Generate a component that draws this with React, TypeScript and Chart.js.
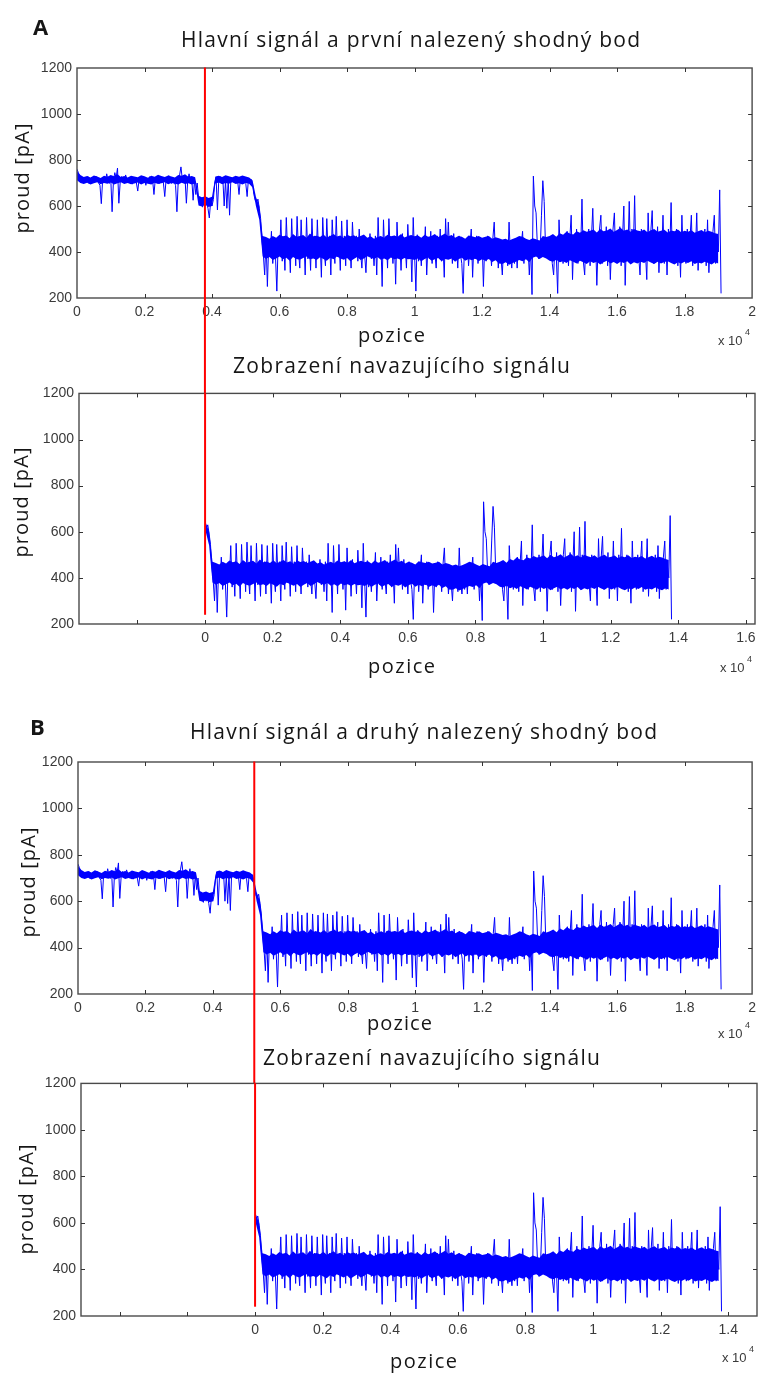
import React, { useEffect, useRef } from 'react';
import { Chart, registerables } from 'chart.js';

Chart.register(...registerables);

// ---------------- data ----------------
// individual samples (spikes visible around the dense band), one every SAMPLE_STEP positions, values in pA
const SAMPLE_STEP = 40;
const MAIN_SIGNAL: number[] = [
  // 0 - 960
  760, 745, 725, 705, 718, 700, 722, 710, 728, 698, 715, 705, 720, 708, 730, 712, 700, 690, 610, 715, 725, 705, 740, 712, 698,
  // 1000 - 1960
  720, 575, 710, 745, 722, 765, 612, 705, 728, 715, 700, 735, 718, 702, 725, 710, 695, 720, 712, 700, 665, 718, 708, 725, 702,
  // 2000 - 2960
  715, 690, 722, 705, 728, 700, 712, 650, 718, 705, 730, 698, 715, 722, 700, 641, 718, 708, 732, 712, 698, 720, 705, 690, 575,
  // 3000 - 3960
  712, 735, 770, 715, 700, 722, 612, 710, 740, 705, 718, 625, 712, 650, 700, 640, 605, 625, 595, 630, 600, 618, 590, 548, 622,
  // 4000 - 4960
  600, 628, 700, 725, 583, 712, 728, 705, 720, 600, 712, 590, 718, 560, 725, 705, 715, 700, 722, 708, 650, 718, 702, 725, 710,
  // 5000 - 5960
  698, 641, 720, 705, 715, 695, 650, 625, 615, 630, 590, 545, 450, 390, 300, 460, 250, 440, 380, 490, 350, 455, 380, 230, 445,
  // 6000 - 6960
  390, 540, 360, 450, 320, 550, 400, 460, 310, 545, 380, 470, 340, 555, 410, 330, 540, 390, 465, 300, 550, 370, 455, 320, 545,
  // 7000 - 7960
  400, 470, 330, 540, 380, 460, 290, 550, 405, 340, 545, 390, 470, 300, 540, 420, 350, 555, 380, 460, 320, 535, 400, 470, 340,
  // 8000 - 8960
  540, 385, 455, 330, 530, 410, 380, 470, 360, 500, 400, 330, 460, 390, 310, 450, 400, 480, 370, 430, 340, 470, 300, 550, 390,
  // 9000 - 9960
  460, 250, 540, 380, 470, 330, 545, 400, 440, 350, 470, 260, 530, 390, 450, 320, 480, 380, 440, 330, 520, 400, 455, 270, 550,
  // 10000 - 10960
  390, 230, 475, 360, 430, 340, 460, 390, 510, 300, 440, 370, 490, 350, 450, 400, 330, 470, 380, 500, 360, 440, 290, 545, 380,
  // 11000 - 11960
  530, 400, 460, 350, 480, 380, 440, 330, 470, 390, 350, 220, 440, 380, 460, 340, 430, 500, 290, 450, 370, 470, 350, 430, 390,
  // 12000 - 12960
  460, 250, 440, 360, 470, 380, 430, 340, 460, 530, 370, 450, 330, 420, 380, 300, 430, 360, 410, 340, 530, 380, 330, 420, 350,
  // 13000 - 13960
  440, 330, 460, 380, 430, 490, 350, 450, 370, 430, 300, 420, 215, 730, 600, 570, 420, 370, 400, 560, 710, 620, 420, 380, 440,
  // 14000 - 14960
  390, 460, 350, 300, 440, 380, 220, 540, 400, 470, 350, 450, 380, 490, 340, 460, 560, 280, 470, 390, 500, 350, 450, 400, 630,
  // 15000 - 15960
  360, 300, 480, 380, 500, 340, 460, 590, 380, 470, 255, 440, 500, 560, 350, 460, 390, 510, 340, 470, 280, 440, 500, 570, 360,
  // 16000 - 16960
  480, 380, 510, 340, 460, 600, 255, 470, 390, 620, 350, 500, 400, 645, 360, 480, 380, 300, 500, 360, 470, 400, 280, 570, 380,
  // 17000 - 17960
  490, 580, 350, 460, 390, 510, 310, 470, 380, 560, 350, 480, 300, 500, 400, 615, 360, 470, 390, 500, 340, 460, 290, 560, 380,
  // 18000 - 18960
  480, 350, 500, 390, 460, 560, 340, 470, 400, 570, 320, 480, 360, 450, 390, 500, 340, 540, 310, 470, 380, 490, 560, 350, 450,
  // 19000 - 19080
  400, 670, 220,
];

// dense core of the signal (where the trace is solid blue), one pair every BAND_STEP positions
const BAND_STEP = 100;
const CORE_HIGH: number[] = [
  // 0 - 3500
  752, 735, 726, 730, 724, 733, 728, 722, 731, 727, 735, 729, 738, 726, 730, 724, 732, 728, 725, 734,
  729, 723, 731, 727, 736, 730, 726, 733, 728, 724, 735, 731, 738, 727, 730, 725,
  // 3600 - 4000
  645, 638, 642, 635, 640,
  // 4100 - 5100
  728, 732, 726, 734, 729, 725, 731, 727, 733, 728, 724,
  // 5200 - 5500
  712, 640, 600, 470,
  // 5600 - 9900
  465, 458, 470, 462, 475, 468, 472, 460, 478, 466, 470, 474, 462, 480, 468, 471, 465, 476, 463, 470,
  478, 467, 472, 461, 475, 469, 473, 464, 470, 476, 462, 468, 458, 465, 470, 462, 475, 468, 472, 466,
  478, 463, 470, 474,
  // 10000 - 13400
  468, 472, 462, 475, 466, 470, 478, 465, 472, 480, 468, 474, 462, 470, 466, 458, 472, 468, 464, 470,
  462, 466, 470, 458, 464, 460, 454, 458, 450, 456, 462, 470, 466, 458, 452,
  // 13500 - 13900
  460, 455, 450, 470, 465,
  // 14000 - 19000
  470, 478, 466, 482, 475, 488, 480, 476, 490, 484, 495, 488, 492, 498, 485, 500, 490, 494, 502, 488,
  496, 505, 492, 498, 488, 500, 494, 490, 498, 486, 495, 500, 488, 492, 497, 485, 494, 490, 498, 486,
  492, 488, 495, 484, 490, 496, 486, 492, 488, 482, 478,
];
const CORE_LOW: number[] = [
  // 0 - 3500
  712, 700, 696, 701, 694, 699, 703, 695, 700, 697, 702, 694, 699, 703, 696, 700, 695, 698, 702, 694,
  700, 697, 693, 701, 696, 699, 703, 695, 700, 697, 694, 701, 696, 699, 693, 698,
  // 3600 - 4000
  602, 598, 605, 596, 600,
  // 4100 - 5100
  698, 702, 695, 700, 697, 703, 696, 699, 694, 700, 697,
  // 5200 - 5500
  680, 600, 540, 380,
  // 5600 - 9900
  370, 378, 365, 372, 380, 368, 375, 362, 378, 370, 366, 374, 380, 368, 372, 365, 377, 370, 362, 375,
  368, 380, 372, 366, 374, 360, 370, 378, 365, 372, 382, 375, 370, 378, 366, 372, 364, 376, 368, 372,
  365, 374, 368, 370,
  // 10000 - 13400
  365, 372, 360, 370, 376, 362, 368, 374, 360, 370, 366, 372, 358, 368, 375, 362, 370, 364, 372, 360,
  368, 362, 370, 356, 364, 350, 348, 355, 345, 352, 358, 365, 360, 368, 355,
  // 13500 - 13900
  375, 380, 370, 378, 372,
  // 14000 - 19000
  362, 358, 366, 355, 360, 352, 364, 358, 350, 362, 355, 348, 360, 352, 358, 346, 355, 362, 350, 356,
  348, 358, 352, 360, 346, 355, 350, 358, 352, 362, 354, 348, 358, 350, 356, 360, 352, 346, 355, 350,
  358, 352, 360, 348, 354, 350, 358, 352, 346, 355, 350,
];

const MATCH_POINT_A = 3790; // first matching point (red line, panel A)
const MATCH_POINT_B = 5230; // second matching point (red line, panel B)
const CONTINUATION_START = 5280; // where the continuing signal begins
const MARKER_END_VALUE = 240; // lower end of the red line in the lower plots

const Y_LIMITS = [200, 1200];
const Y_TICKS = [200, 400, 600, 800, 1000, 1200];
const MAIN_X_LIMITS = [0, 20000];
const MAIN_X_TICKS = [0, 2000, 4000, 6000, 8000, 10000, 12000, 14000, 16000, 18000, 20000];
const CONT_X_LIMITS_A = [-3730, 16270];
const CONT_X_TICKS_A = [-2000, 0, 2000, 4000, 6000, 8000, 10000, 12000, 14000, 16000];
const CONT_X_LIMITS_B = [-5150, 14850];
const CONT_X_TICKS_B = [-4000, -2000, 0, 2000, 4000, 6000, 8000, 10000, 12000, 14000];

const TITLE_A = 'Hlavní signál a první nalezený shodný bod';
const TITLE_B = 'Hlavní signál a druhý nalezený shodný bod';
const TITLE_CONT = 'Zobrazení navazujícího signálu';
const X_LABEL = 'pozice';
const Y_LABEL = 'proud [pA]';

type Pt = { x: number; y: number };
const toPoints = (vals: number[], step: number): Pt[] => vals.map((v, i) => ({ x: i * step, y: v }));
const continuation = (pts: Pt[]): Pt[] =>
  pts.filter((p) => p.x >= CONTINUATION_START).map((p) => ({ x: p.x - CONTINUATION_START, y: p.y }));

const mainSeries = {
  line: toPoints(MAIN_SIGNAL, SAMPLE_STEP),
  low: toPoints(CORE_LOW, BAND_STEP),
  high: toPoints(CORE_HIGH, BAND_STEP),
};
const contSeries = {
  line: continuation(mainSeries.line),
  low: continuation(mainSeries.low),
  high: continuation(mainSeries.high),
};

// ---------------- layout ----------------
const W = 762;
const PANELS = [
  {
    key: 'A1', canvasTop: 0, canvasH: 393,
    area: { left: 77, right: 753, top: 68, bottom: 298 },
    xLimits: MAIN_X_LIMITS, xTicks: MAIN_X_TICKS, series: mainSeries,
    markerX: MATCH_POINT_A, markerToValue: null as number | null,
  },
  {
    key: 'A2', canvasTop: 380, canvasH: 320,
    area: { left: 79, right: 755, top: 393, bottom: 624 },
    xLimits: CONT_X_LIMITS_A, xTicks: CONT_X_TICKS_A, series: contSeries,
    markerX: 0, markerToValue: MARKER_END_VALUE as number | null,
  },
  {
    key: 'B1', canvasTop: 700, canvasH: 383,
    area: { left: 78, right: 755, top: 762, bottom: 994 },
    xLimits: MAIN_X_LIMITS, xTicks: MAIN_X_TICKS, series: mainSeries,
    markerX: MATCH_POINT_B, markerToValue: null as number | null,
  },
  {
    key: 'B2', canvasTop: 1070, canvasH: 304,
    area: { left: 81, right: 757, top: 1083, bottom: 1316 },
    xLimits: CONT_X_LIMITS_B, xTicks: CONT_X_TICKS_B, series: contSeries,
    markerX: 0, markerToValue: MARKER_END_VALUE as number | null,
  },
];

const TICK_FONT = { family: '"Liberation Sans", Arial, sans-serif', size: 14 };
const TICK_COLOR = '#3a3a3a';
const TEXT_COLOR = '#161616';
const TRACE = '#0000ff';

const matlabFrame = {
  id: 'matlabFrame',
  afterDatasetsDraw(chart: any, _args: any, opts: any) {
    const { ctx, chartArea, scales } = chart;
    const { left, right, top, bottom } = chartArea;
    const xs = scales.x;
    const ys = scales.y;
    ctx.save();
    ctx.strokeStyle = '#4a4a4a';
    ctx.lineWidth = 1.4;
    ctx.strokeRect(left, top, right - left, bottom - top);
    ctx.lineWidth = 1;
    ctx.strokeStyle = '#333';
    ctx.beginPath();
    const L = 4;
    xs.ticks.forEach((t: any) => {
      const px = Math.round(xs.getPixelForValue(t.value)) + 0.5;
      if (px <= left + 1.5 || px >= right - 1.5) return;
      ctx.moveTo(px, bottom);
      ctx.lineTo(px, bottom - L);
      ctx.moveTo(px, top);
      ctx.lineTo(px, top + L);
    });
    ys.ticks.forEach((t: any) => {
      const py = Math.round(ys.getPixelForValue(t.value)) + 0.5;
      if (py <= top + 1.5 || py >= bottom - 1.5) return;
      ctx.moveTo(left, py);
      ctx.lineTo(left + L, py);
      ctx.moveTo(right, py);
      ctx.lineTo(right - L, py);
    });
    ctx.stroke();
    if (opts && typeof opts.markerX === 'number') {
      const px = xs.getPixelForValue(opts.markerX);
      const y1 = typeof opts.markerToValue === 'number' ? ys.getPixelForValue(opts.markerToValue) : chart.height;
      ctx.strokeStyle = '#ff0000';
      ctx.lineWidth = 2;
      ctx.beginPath();
      ctx.moveTo(px, top - 0.5);
      ctx.lineTo(px, y1);
      ctx.stroke();
    }
    ctx.restore();
  },
};

const fmtX = (v: number) => (v < 0 ? '' : String(Math.round(v / 1000) / 10));

function SignalChart({ panel }: { panel: (typeof PANELS)[number] }) {
  const ref = useRef<HTMLCanvasElement>(null);
  useEffect(() => {
    const canvas = ref.current;
    if (!canvas) return;
    const { area, canvasTop, canvasH, series } = panel;
    const chart = new Chart(canvas, {
      type: 'line',
      data: {
        datasets: [
          {
            // sampled trace (drawn on top)
            data: series.line,
            borderColor: TRACE,
            borderWidth: 1,
            pointRadius: 0,
            tension: 0,
            fill: false,
          },
          {
            // lower edge of the dense core
            data: series.low,
            borderColor: TRACE,
            borderWidth: 0,
            pointRadius: 0,
            tension: 0,
            fill: false,
          },
          {
            // upper edge of the dense core, filled down to the lower edge
            data: series.high,
            borderColor: TRACE,
            borderWidth: 0,
            backgroundColor: TRACE,
            pointRadius: 0,
            tension: 0,
            fill: '-1',
          },
        ],
      },
      options: {
        animation: false,
        responsive: false,
        devicePixelRatio: 1,
        events: [],
        layout: {
          padding: { left: 0, right: W - area.right, top: area.top - canvasTop, bottom: 0 },
        },
        plugins: {
          legend: { display: false },
          tooltip: { enabled: false },
          title: { display: false },
          matlabFrame: { markerX: panel.markerX, markerToValue: panel.markerToValue },
        } as any,
        scales: {
          x: {
            type: 'linear',
            min: panel.xLimits[0],
            max: panel.xLimits[1],
            afterBuildTicks: (s: any) => {
              s.ticks = panel.xTicks.map((v) => ({ value: v }));
            },
            afterFit: (s: any) => {
              s.height = canvasH - (area.bottom - canvasTop);
            },
            grid: { display: false, drawTicks: false },
            border: { display: false },
            ticks: {
              padding: 6,
              color: TICK_COLOR,
              font: TICK_FONT,
              maxRotation: 0,
              autoSkip: false,
              callback: (v: any) => fmtX(Number(v)),
            },
          },
          y: {
            type: 'linear',
            min: Y_LIMITS[0],
            max: Y_LIMITS[1],
            afterBuildTicks: (s: any) => {
              s.ticks = Y_TICKS.map((v) => ({ value: v }));
            },
            afterFit: (s: any) => {
              s.width = area.left;
            },
            grid: { display: false, drawTicks: false },
            border: { display: false },
            ticks: {
              padding: 5,
              color: TICK_COLOR,
              font: TICK_FONT,
              autoSkip: false,
              callback: (v: any) => String(v),
            },
          },
        },
      } as any,
      plugins: [matlabFrame as any],
    });
    return () => chart.destroy();
  }, [panel]);
  return (
    <canvas
      ref={ref}
      width={W}
      height={panel.canvasH}
      style={{ position: 'absolute', left: 0, top: panel.canvasTop, width: W, height: panel.canvasH }}
    />
  );
}

// ---------------- text helpers ----------------
let measureCtx: CanvasRenderingContext2D | null = null;
function naturalWidth(text: string, font: string) {
  if (!measureCtx) measureCtx = document.createElement('canvas').getContext('2d');
  if (!measureCtx) return 0;
  measureCtx.font = font;
  return measureCtx.measureText(text).width;
}

const OPEN = '"Open Sans", "Noto Sans", sans-serif';
const LIB = '"Liberation Sans", Arial, sans-serif';

function Label(props: {
  text: string; left: number; baseline: number; size: number; width?: number;
  family?: string; weight?: number; color?: string; ascent?: number;
}) {
  const { text, left, baseline, size, width, family = OPEN, weight = 400, color = TEXT_COLOR, ascent = 0.888 } = props;
  const n = Array.from(text).length;
  const ls = width ? (width - naturalWidth(text, `${weight} ${size}px ${family}`)) / Math.max(1, n - 1) : 0;
  return (
    <div
      style={{
        position: 'absolute', left, top: baseline - ascent * size,
        fontFamily: family, fontSize: size, fontWeight: weight, lineHeight: `${size}px`,
        letterSpacing: ls, color, whiteSpace: 'nowrap',
      }}
    >
      {text}
    </div>
  );
}

function VLabel(props: { text: string; cx: number; cy: number; size: number; length: number }) {
  const { text, cx, cy, size, length } = props;
  const n = Array.from(text).length;
  const ls = (length - naturalWidth(text, `400 ${size}px ${OPEN}`)) / Math.max(1, n - 1);
  return (
    <div
      style={{
        position: 'absolute', left: cx, top: cy, transform: 'translate(-50%, -50%) rotate(-90deg)',
        fontFamily: OPEN, fontSize: size, lineHeight: `${size}px`, letterSpacing: ls,
        color: TEXT_COLOR, whiteSpace: 'nowrap',
      }}
    >
      {text}
    </div>
  );
}

function Exponent({ left, baseline }: { left: number; baseline: number }) {
  return (
    <>
      <Label text="x 10" left={left} baseline={baseline} size={13} family={LIB} color="#3a3a3a" ascent={0.847} />
      <Label text="4" left={left + 27} baseline={baseline - 9} size={9} family={LIB} color="#3a3a3a" ascent={0.847} />
    </>
  );
}

export default function App() {
  return (
    <div
      style={{
        position: 'absolute', left: 0, top: 0, width: W, height: 1374,
        overflow: 'hidden', background: '#ffffff',
      }}
    >
      {PANELS.map((p) => (
        <SignalChart key={p.key} panel={p} />
      ))}

      {/* panel A */}
      <Label text="A" left={33} baseline={35} size={22} weight={700} />
      <Label text={TITLE_A} left={181} baseline={48} size={21} width={459} />
      <VLabel text={Y_LABEL} cx={22} cy={178} size={20} length={110} />
      <Label text={X_LABEL} left={358} baseline={343} size={20} width={67} />
      <Exponent left={718} baseline={345} />

      <Label text={TITLE_CONT} left={233} baseline={374} size={21} width={337} />
      <VLabel text={Y_LABEL} cx={21} cy={502} size={20} length={110} />
      <Label text={X_LABEL} left={368} baseline={674} size={20} width={67} />
      <Exponent left={720} baseline={672} />

      {/* panel B */}
      <Label text="B" left={30} baseline={735} size={22} weight={700} />
      <Label text={TITLE_B} left={190} baseline={740} size={21} width={467} />
      <VLabel text={Y_LABEL} cx={28} cy={882} size={20} length={110} />
      <Label text={X_LABEL} left={367} baseline={1031} size={20} width={65} />
      <Exponent left={718} baseline={1038} />

      <Label text={TITLE_CONT} left={263} baseline={1066} size={21} width={337} />
      <VLabel text={Y_LABEL} cx={26} cy={1199} size={20} length={110} />
      <Label text={X_LABEL} left={390} baseline={1369} size={20} width={67} />
      <Exponent left={722} baseline={1362} />
    </div>
  );
}
